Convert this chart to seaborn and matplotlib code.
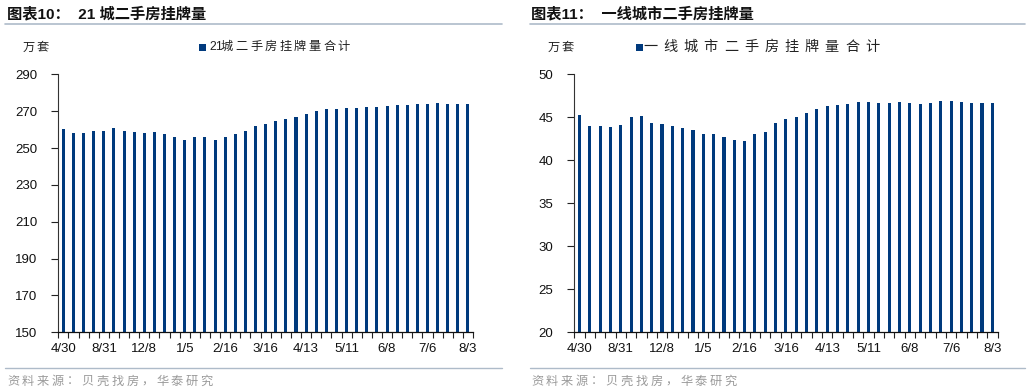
import numpy as np
import pandas as pd
import matplotlib
matplotlib.use("Agg")
import matplotlib.pyplot as plt
import seaborn as sns
from matplotlib.lines import Line2D
from matplotlib.patches import Rectangle

dates = ["4/30", "5/31", "6/30", "7/31", "8/31", "9/30", "10/31", "11/30",
         "12/8", "12/15", "12/22", "12/29", "1/5", "1/12", "1/19", "2/9",
         "2/16", "2/23", "3/2", "3/9", "3/16", "3/23", "3/30", "4/6",
         "4/13", "4/20", "4/27", "5/4", "5/11", "5/18", "5/25", "6/1",
         "6/8", "6/15", "6/22", "6/29", "7/6", "7/13", "7/20", "7/27", "8/3"]

city21 = [260.3, 258.3, 258.3, 259.0, 259.0, 260.6, 259.2, 258.6, 258.3, 258.6,
          257.4, 255.9, 254.3, 255.9, 255.8, 254.3, 255.8, 257.7, 259.0, 261.9,
          263.0, 264.4, 265.7, 266.8, 268.6, 269.9, 271.0, 271.0, 271.7, 271.7,
          272.2, 272.4, 272.6, 273.3, 273.3, 274.0, 274.0, 274.4, 274.0, 274.0,
          273.8]

tier1 = [45.23, 43.99, 43.95, 43.87, 44.07, 45.00, 45.12, 44.37, 44.18, 43.99,
         43.76, 43.49, 43.06, 43.02, 42.67, 42.36, 42.20, 43.10, 43.26, 44.37,
         44.77, 45.03, 45.50, 46.00, 46.31, 46.43, 46.58, 46.78, 46.74, 46.70,
         46.62, 46.74, 46.70, 46.58, 46.66, 46.86, 46.93, 46.82, 46.66, 46.66,
         46.66]

shown_labels = ["4/30", "8/31", "12/8", "1/5", "2/16", "3/16", "4/13",
                "5/11", "6/8", "7/6", "8/3"]

titles = ["图表10：  21 城二手房挂牌量", "图表11：  一线城市二手房挂牌量"]
legends = ["21城二手房挂牌量合计", "一线城市二手房挂牌量合计"]
unit = "万套"
source = "资料来源：贝壳找房，华泰研究"

sns.set_theme(style="white")
plt.rcParams["font.family"] = ["Liberation Sans", "Noto Sans CJK SC", "DejaVu Sans"]

BAR = "#003A7D"
W, H = 1031, 392
fig = plt.figure(figsize=(W / 100, H / 100), dpi=100)


def fx(px):
    return px / W


def fy(py):
    return 1 - py / H


def spaced(x, y, s, step, ascii_step=7.0, **kw):
    """Place text character by character with a fixed pixel step (wide CJK spacing)."""
    cx = x
    for ch in s:
        fig.text(fx(cx), fy(y), ch, ha="left", va="center", **kw)
        cx += ascii_step if ch.isascii() else step


panels = [
    dict(data=city21, left=58.3, right=473.0, ylim=(150, 290), yt=np.arange(150, 291, 20),
         x0=5, x1=502, tx=7, unitx=23, sqx=199, legx=209, legstep=14.6, legfs=8.8),
    dict(data=tier1, left=574.3, right=997.5, ylim=(20, 50), yt=np.arange(20, 51, 5),
         x0=530, x1=1025, tx=531, unitx=548, sqx=636, legx=643, legstep=20.2, legfs=10.2),
]

for i, p in enumerate(panels):
    ax = fig.add_axes([fx(p["left"]), fy(332.3), fx(p["right"] - p["left"]), (332.3 - 74.3) / H])
    df = pd.DataFrame({"date": dates, "value": p["data"]})
    sns.barplot(data=df, x="date", y="value", order=dates, color=BAR, width=0.3,
                saturation=1, linewidth=0, ax=ax)
    ax.set_xlim(-0.5, len(dates) - 0.5)
    ax.set_ylim(*p["ylim"])
    ax.set_yticks(p["yt"])
    ax.set_yticklabels([str(v) for v in p["yt"]], fontsize=9.5, color="#111111")
    idx = [dates.index(d) for d in shown_labels]
    ax.set_xticks(idx)
    ax.set_xticklabels(shown_labels, fontsize=9.5, color="#111111")
    ax.set_xticks(np.arange(-0.5, len(dates), 1), minor=True)
    ax.tick_params(axis="x", which="major", length=0, pad=8)
    ax.tick_params(axis="x", which="minor", length=4, width=0.8, direction="out", color="#222222", bottom=True)
    ax.tick_params(axis="y", which="major", length=5, width=0.8, direction="out", color="#222222", left=True, pad=10)
    ax.set_xlabel("")
    ax.set_ylabel("")
    for s in ["top", "right"]:
        ax.spines[s].set_visible(False)
    ax.spines["left"].set_color("#333333")
    ax.spines["left"].set_linewidth(0.8)
    ax.spines["bottom"].set_color("#111111")
    ax.spines["bottom"].set_linewidth(0.9)
    ax.grid(False)

    # title and decorations
    fig.text(fx(p["tx"]), fy(14), titles[i], fontsize=11, fontweight="bold",
             color="#111111", ha="left", va="center",
             family=["Liberation Sans", "Noto Sans CJK SC"])
    fig.add_artist(Line2D([fx(p["x0"]), fx(p["x1"])], [fy(24), fy(24)], color="#AEBBC9", lw=1.2))
    fig.add_artist(Line2D([fx(p["x0"]), fx(p["x1"])], [fy(368), fy(368)], color="#AEBBC9", lw=1.0))
    spaced(p["tx"], 381, source, 14.9, fontsize=8.8, color="#9A9A9A", family=["Noto Sans CJK SC"])
    spaced(p["unitx"], 47, unit, 13.5, fontsize=8.8, color="#222222", family=["Noto Sans CJK SC"])
    fig.add_artist(Rectangle((fx(p["sqx"]), fy(51)), fx(7), 7 / H, color=BAR, lw=0))
    spaced(p["legx"], 47, legends[i], p["legstep"], ascii_step=6.0, fontsize=p["legfs"], color="#222222",
           family=["Liberation Sans", "Noto Sans CJK SC"])

fig.savefig("out.png", dpi=100)
